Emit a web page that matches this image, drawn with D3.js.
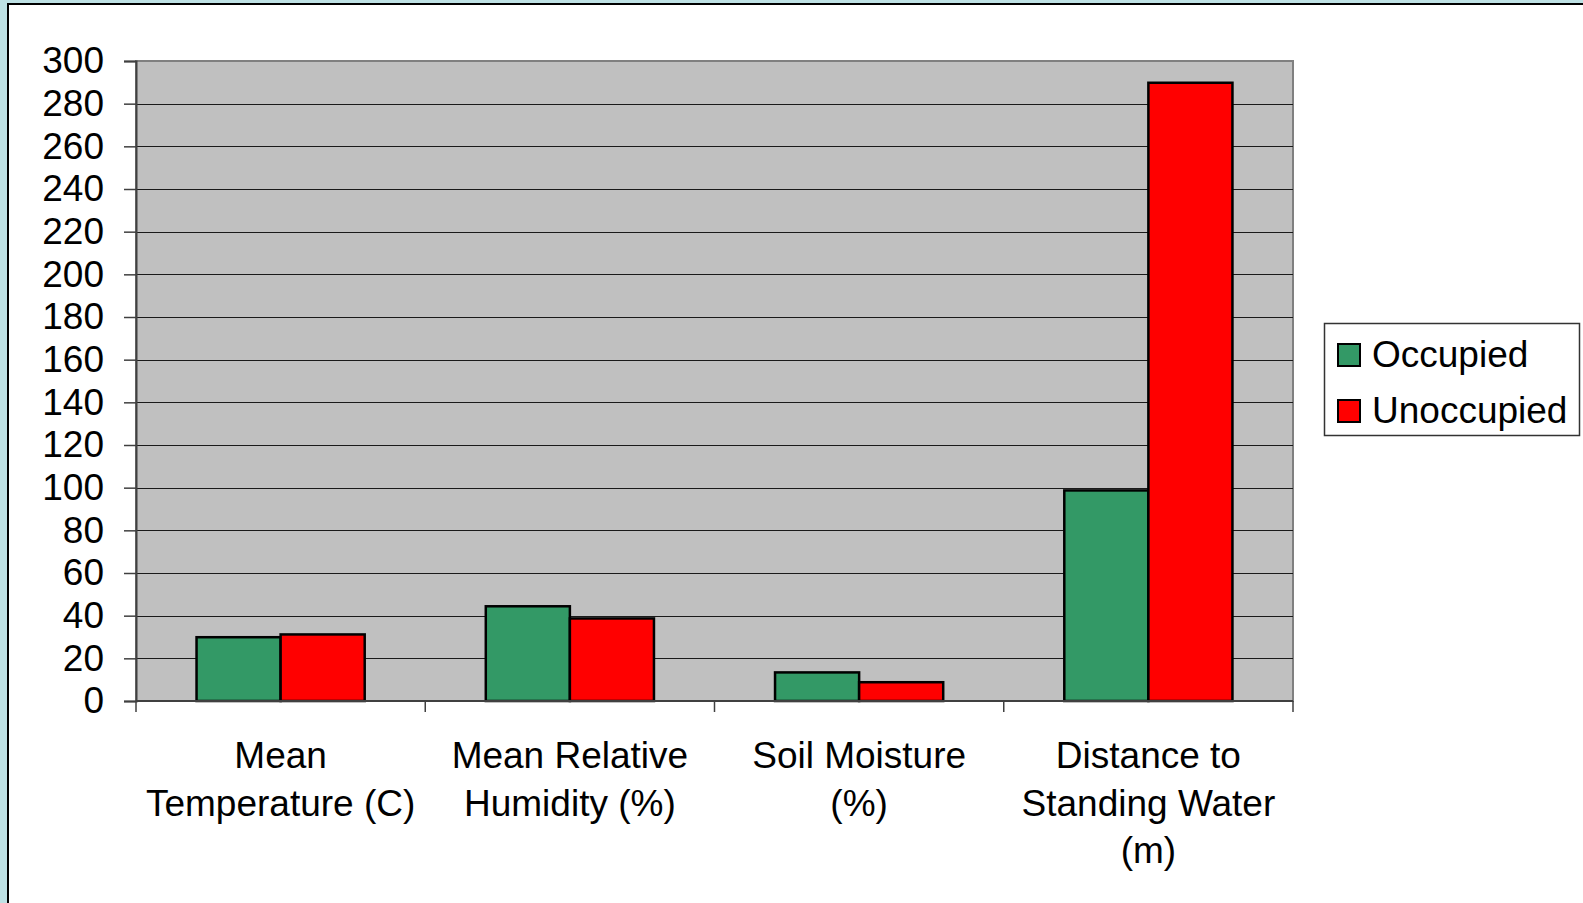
<!DOCTYPE html>
<html>
<head>
<meta charset="utf-8">
<script src="https://cdn.jsdelivr.net/npm/d3@7"></script>
<style>
  html, body { margin: 0; padding: 0; background: #BEE1E4; overflow: hidden; }
  svg { display: block; }
  text { font-family: "Liberation Sans", Arial, sans-serif; fill: #000; }
</style>
</head>
<body>
<svg id="chart" width="1583" height="903"></svg>
<script>
// ---- data ----
const categories = ["Mean Temperature (C)", "Mean Relative Humidity (%)", "Soil Moisture (%)", "Distance to Standing Water (m)"];
const categoryLines = [["Mean", "Temperature (C)"], ["Mean Relative", "Humidity (%)"], ["Soil Moisture", "(%)"], ["Distance to", "Standing Water", "(m)"]];
const seriesNames = ["Occupied", "Unoccupied"];
const occupied = [29.9, 44.4, 13.4, 98.7];
const unoccupied = [31.2, 38.7, 8.8, 289.8];
const yTicks = [0, 20, 40, 60, 80, 100, 120, 140, 160, 180, 200, 220, 240, 260, 280, 300];
const seriesColors = ["#339966", "#FF0000"];

// ---- layout ----
const W = 1583, H = 903;
const plot = { left: 136, top: 61, right: 1293, bottom: 701 };
const svg = d3.select("#chart");

// white panel with border
svg.append("rect")
  .attr("x", 8).attr("y", 4)
  .attr("width", W + 20).attr("height", H + 20)
  .attr("fill", "#fff").attr("stroke", "#000").attr("stroke-width", 2);

const x0 = d3.scaleBand().domain(categories).range([plot.left, plot.right]).paddingInner(0).paddingOuter(0);
const x1 = d3.scaleBand().domain(seriesNames).range([0, x0.bandwidth()]).paddingInner(0).paddingOuter(0.72);
const y = d3.scaleLinear().domain([0, 300]).range([plot.bottom, plot.top]);

// plot background
svg.append("rect")
  .attr("x", plot.left).attr("y", plot.top)
  .attr("width", plot.right - plot.left).attr("height", plot.bottom - plot.top)
  .attr("fill", "#C0C0C0").attr("stroke", "#808080").attr("stroke-width", 2);

// gridlines
svg.append("g").selectAll("line")
  .data(yTicks.filter(t => t > 0 && t < 300))
  .join("line")
  .attr("x1", plot.left).attr("x2", plot.right)
  .attr("y1", d => Math.round(y(d)) + 0.5).attr("y2", d => Math.round(y(d)) + 0.5)
  .attr("stroke", "#1a1a1a").attr("stroke-width", 1.2);

// bars
const data = categories.map((c, i) => ({ cat: c, values: [occupied[i], unoccupied[i]] }));
const groups = svg.append("g").selectAll("g")
  .data(data).join("g")
  .attr("transform", d => `translate(${x0(d.cat)},0)`);
groups.selectAll("rect")
  .data(d => d.values.map((v, j) => ({ name: seriesNames[j], v, j })))
  .join("rect")
  .attr("x", d => x1(d.name))
  .attr("width", x1.bandwidth())
  .attr("y", d => y(d.v))
  .attr("height", d => y(0) - y(d.v))
  .attr("fill", d => seriesColors[d.j])
  .attr("stroke", "#000").attr("stroke-width", 2.5);

// y axis
const yAxis = d3.axisLeft(y).tickValues(yTicks).tickSize(12).tickPadding(20).tickFormat(d3.format("d"));
const yg = svg.append("g").attr("transform", `translate(${plot.left},0)`).call(yAxis);
yg.select(".domain").attr("stroke", "#404040").attr("stroke-width", 2);
yg.selectAll(".tick line").attr("stroke", "#404040").attr("stroke-width", 1.5);
yg.selectAll(".tick text")
  .style("font-family", '"Liberation Sans", Arial, sans-serif')
  .style("font-size", "37px").attr("fill", "#000");

// x axis baseline and boundary ticks
const boundaries = categories.map(c => x0(c)).concat([plot.right]);
svg.append("line")
  .attr("x1", plot.left).attr("x2", plot.right)
  .attr("y1", plot.bottom).attr("y2", plot.bottom)
  .attr("stroke", "#404040").attr("stroke-width", 2);
svg.append("g").selectAll("line")
  .data(boundaries).join("line")
  .attr("x1", d => d).attr("x2", d => d)
  .attr("y1", plot.bottom).attr("y2", plot.bottom + 11)
  .attr("stroke", "#404040").attr("stroke-width", 1.5);

// category labels
const lab = svg.append("g").selectAll("text")
  .data(categories).join("text")
  .attr("text-anchor", "middle")
  .style("font-size", "37px")
  .attr("transform", d => `translate(${x0(d) + x0.bandwidth() / 2},768)`);
lab.selectAll("tspan")
  .data((d, i) => categoryLines[i])
  .join("tspan")
  .attr("x", 0)
  .attr("y", (d, k) => k * 47.5)
  .text(d => d);

// legend
const lg = svg.append("g");
lg.append("rect")
  .attr("x", 1324.5).attr("y", 323.5).attr("width", 255).attr("height", 112)
  .attr("fill", "#fff").attr("stroke", "#333").attr("stroke-width", 1.5);
const items = lg.selectAll("g.item").data(seriesNames).join("g").attr("class", "item")
  .attr("transform", (d, i) => `translate(1338,${344 + i * 56})`);
items.append("rect")
  .attr("width", 22).attr("height", 22)
  .attr("fill", (d, i) => seriesColors[i])
  .attr("stroke", "#000").attr("stroke-width", 2);
items.append("text")
  .attr("x", 34).attr("y", 23)
  .style("font-size", "37px")
  .text(d => d);
</script>
</body>
</html>
